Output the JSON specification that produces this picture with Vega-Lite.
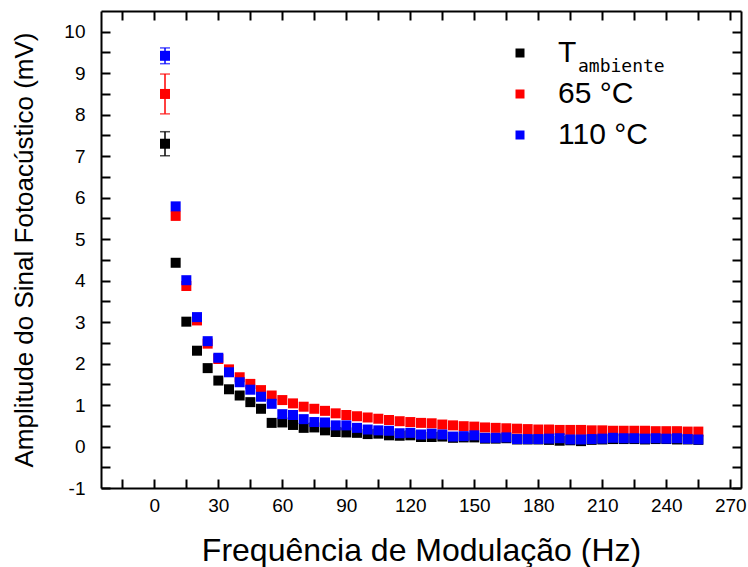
{
  "$schema": "https://vega.github.io/schema/vega-lite/v6.json",
  "width": 640,
  "height": 477,
  "autosize": {"type": "none"},
  "padding": {"left": 101, "top": 11, "right": 7, "bottom": 79},
  "background": "white",
  "config": {
    "view": {"stroke": null},
    "font": "Liberation Sans",
    "axis": {
      "grid": false,
      "domainColor": "black",
      "domainWidth": 2,
      "tickColor": "black",
      "tickWidth": 2,
      "tickSize": -9,
      "labelFont": "Liberation Sans",
      "labelFontSize": 19,
      "labelColor": "black",
      "labelFlush": false,
      "labelOverlap": false,
      "titleFont": "Liberation Sans",
      "titleFontWeight": "normal",
      "titleColor": "black"
    }
  },
  "data": {
    "values": [
      {"freq": 5, "serie": "Tambiente", "amp": 7.30, "err": 0.29},
      {"freq": 10, "serie": "Tambiente", "amp": 4.43},
      {"freq": 15, "serie": "Tambiente", "amp": 3.01},
      {"freq": 20, "serie": "Tambiente", "amp": 2.31},
      {"freq": 25, "serie": "Tambiente", "amp": 1.89},
      {"freq": 30, "serie": "Tambiente", "amp": 1.59},
      {"freq": 35, "serie": "Tambiente", "amp": 1.38},
      {"freq": 40, "serie": "Tambiente", "amp": 1.23},
      {"freq": 45, "serie": "Tambiente", "amp": 1.07},
      {"freq": 50, "serie": "Tambiente", "amp": 0.91},
      {"freq": 55, "serie": "Tambiente", "amp": 0.57},
      {"freq": 60, "serie": "Tambiente", "amp": 0.58},
      {"freq": 65, "serie": "Tambiente", "amp": 0.52},
      {"freq": 70, "serie": "Tambiente", "amp": 0.45},
      {"freq": 75, "serie": "Tambiente", "amp": 0.46},
      {"freq": 80, "serie": "Tambiente", "amp": 0.39},
      {"freq": 85, "serie": "Tambiente", "amp": 0.35},
      {"freq": 90, "serie": "Tambiente", "amp": 0.34},
      {"freq": 95, "serie": "Tambiente", "amp": 0.33},
      {"freq": 100, "serie": "Tambiente", "amp": 0.30},
      {"freq": 105, "serie": "Tambiente", "amp": 0.31},
      {"freq": 110, "serie": "Tambiente", "amp": 0.27},
      {"freq": 115, "serie": "Tambiente", "amp": 0.26},
      {"freq": 120, "serie": "Tambiente", "amp": 0.27},
      {"freq": 125, "serie": "Tambiente", "amp": 0.23},
      {"freq": 130, "serie": "Tambiente", "amp": 0.23},
      {"freq": 135, "serie": "Tambiente", "amp": 0.24},
      {"freq": 140, "serie": "Tambiente", "amp": 0.21},
      {"freq": 145, "serie": "Tambiente", "amp": 0.22},
      {"freq": 150, "serie": "Tambiente", "amp": 0.22},
      {"freq": 155, "serie": "Tambiente", "amp": 0.19},
      {"freq": 160, "serie": "Tambiente", "amp": 0.19},
      {"freq": 165, "serie": "Tambiente", "amp": 0.20},
      {"freq": 170, "serie": "Tambiente", "amp": 0.17},
      {"freq": 175, "serie": "Tambiente", "amp": 0.17},
      {"freq": 180, "serie": "Tambiente", "amp": 0.17},
      {"freq": 185, "serie": "Tambiente", "amp": 0.16},
      {"freq": 190, "serie": "Tambiente", "amp": 0.14},
      {"freq": 195, "serie": "Tambiente", "amp": 0.15},
      {"freq": 200, "serie": "Tambiente", "amp": 0.13},
      {"freq": 205, "serie": "Tambiente", "amp": 0.16},
      {"freq": 210, "serie": "Tambiente", "amp": 0.17},
      {"freq": 215, "serie": "Tambiente", "amp": 0.18},
      {"freq": 220, "serie": "Tambiente", "amp": 0.18},
      {"freq": 225, "serie": "Tambiente", "amp": 0.18},
      {"freq": 230, "serie": "Tambiente", "amp": 0.17},
      {"freq": 235, "serie": "Tambiente", "amp": 0.18},
      {"freq": 240, "serie": "Tambiente", "amp": 0.18},
      {"freq": 245, "serie": "Tambiente", "amp": 0.17},
      {"freq": 250, "serie": "Tambiente", "amp": 0.17},
      {"freq": 255, "serie": "Tambiente", "amp": 0.16},
      {"freq": 5, "serie": "65 °C", "amp": 8.50, "err": 0.48},
      {"freq": 10, "serie": "65 °C", "amp": 5.56},
      {"freq": 15, "serie": "65 °C", "amp": 3.87},
      {"freq": 20, "serie": "65 °C", "amp": 3.04},
      {"freq": 25, "serie": "65 °C", "amp": 2.48},
      {"freq": 30, "serie": "65 °C", "amp": 2.11},
      {"freq": 35, "serie": "65 °C", "amp": 1.86},
      {"freq": 40, "serie": "65 °C", "amp": 1.67},
      {"freq": 45, "serie": "65 °C", "amp": 1.51},
      {"freq": 50, "serie": "65 °C", "amp": 1.36},
      {"freq": 55, "serie": "65 °C", "amp": 1.23},
      {"freq": 60, "serie": "65 °C", "amp": 1.12},
      {"freq": 65, "serie": "65 °C", "amp": 1.04},
      {"freq": 70, "serie": "65 °C", "amp": 0.96},
      {"freq": 75, "serie": "65 °C", "amp": 0.91},
      {"freq": 80, "serie": "65 °C", "amp": 0.86},
      {"freq": 85, "serie": "65 °C", "amp": 0.80},
      {"freq": 90, "serie": "65 °C", "amp": 0.76},
      {"freq": 95, "serie": "65 °C", "amp": 0.73},
      {"freq": 100, "serie": "65 °C", "amp": 0.70},
      {"freq": 105, "serie": "65 °C", "amp": 0.67},
      {"freq": 110, "serie": "65 °C", "amp": 0.64},
      {"freq": 115, "serie": "65 °C", "amp": 0.61},
      {"freq": 120, "serie": "65 °C", "amp": 0.59},
      {"freq": 125, "serie": "65 °C", "amp": 0.57},
      {"freq": 130, "serie": "65 °C", "amp": 0.56},
      {"freq": 135, "serie": "65 °C", "amp": 0.53},
      {"freq": 140, "serie": "65 °C", "amp": 0.51},
      {"freq": 145, "serie": "65 °C", "amp": 0.49},
      {"freq": 150, "serie": "65 °C", "amp": 0.48},
      {"freq": 155, "serie": "65 °C", "amp": 0.46},
      {"freq": 160, "serie": "65 °C", "amp": 0.45},
      {"freq": 165, "serie": "65 °C", "amp": 0.44},
      {"freq": 170, "serie": "65 °C", "amp": 0.43},
      {"freq": 175, "serie": "65 °C", "amp": 0.42},
      {"freq": 180, "serie": "65 °C", "amp": 0.41},
      {"freq": 185, "serie": "65 °C", "amp": 0.41},
      {"freq": 190, "serie": "65 °C", "amp": 0.40},
      {"freq": 195, "serie": "65 °C", "amp": 0.40},
      {"freq": 200, "serie": "65 °C", "amp": 0.40},
      {"freq": 205, "serie": "65 °C", "amp": 0.39},
      {"freq": 210, "serie": "65 °C", "amp": 0.39},
      {"freq": 215, "serie": "65 °C", "amp": 0.38},
      {"freq": 220, "serie": "65 °C", "amp": 0.38},
      {"freq": 225, "serie": "65 °C", "amp": 0.38},
      {"freq": 230, "serie": "65 °C", "amp": 0.38},
      {"freq": 235, "serie": "65 °C", "amp": 0.37},
      {"freq": 240, "serie": "65 °C", "amp": 0.37},
      {"freq": 245, "serie": "65 °C", "amp": 0.37},
      {"freq": 250, "serie": "65 °C", "amp": 0.36},
      {"freq": 255, "serie": "65 °C", "amp": 0.36},
      {"freq": 5, "serie": "110 °C", "amp": 9.42, "err": 0.19},
      {"freq": 10, "serie": "110 °C", "amp": 5.79},
      {"freq": 15, "serie": "110 °C", "amp": 4.01},
      {"freq": 20, "serie": "110 °C", "amp": 3.12},
      {"freq": 25, "serie": "110 °C", "amp": 2.54},
      {"freq": 30, "serie": "110 °C", "amp": 2.14},
      {"freq": 35, "serie": "110 °C", "amp": 1.79},
      {"freq": 40, "serie": "110 °C", "amp": 1.55},
      {"freq": 45, "serie": "110 °C", "amp": 1.37},
      {"freq": 50, "serie": "110 °C", "amp": 1.20},
      {"freq": 55, "serie": "110 °C", "amp": 1.03},
      {"freq": 60, "serie": "110 °C", "amp": 0.78},
      {"freq": 65, "serie": "110 °C", "amp": 0.76},
      {"freq": 70, "serie": "110 °C", "amp": 0.66},
      {"freq": 75, "serie": "110 °C", "amp": 0.59},
      {"freq": 80, "serie": "110 °C", "amp": 0.58},
      {"freq": 85, "serie": "110 °C", "amp": 0.51},
      {"freq": 90, "serie": "110 °C", "amp": 0.51},
      {"freq": 95, "serie": "110 °C", "amp": 0.45},
      {"freq": 100, "serie": "110 °C", "amp": 0.41},
      {"freq": 105, "serie": "110 °C", "amp": 0.39},
      {"freq": 110, "serie": "110 °C", "amp": 0.38},
      {"freq": 115, "serie": "110 °C", "amp": 0.32},
      {"freq": 120, "serie": "110 °C", "amp": 0.33},
      {"freq": 125, "serie": "110 °C", "amp": 0.29},
      {"freq": 130, "serie": "110 °C", "amp": 0.31},
      {"freq": 135, "serie": "110 °C", "amp": 0.29},
      {"freq": 140, "serie": "110 °C", "amp": 0.24},
      {"freq": 145, "serie": "110 °C", "amp": 0.25},
      {"freq": 150, "serie": "110 °C", "amp": 0.27},
      {"freq": 155, "serie": "110 °C", "amp": 0.21},
      {"freq": 160, "serie": "110 °C", "amp": 0.21},
      {"freq": 165, "serie": "110 °C", "amp": 0.22},
      {"freq": 170, "serie": "110 °C", "amp": 0.18},
      {"freq": 175, "serie": "110 °C", "amp": 0.18},
      {"freq": 180, "serie": "110 °C", "amp": 0.18},
      {"freq": 185, "serie": "110 °C", "amp": 0.19},
      {"freq": 190, "serie": "110 °C", "amp": 0.20},
      {"freq": 195, "serie": "110 °C", "amp": 0.17},
      {"freq": 200, "serie": "110 °C", "amp": 0.17},
      {"freq": 205, "serie": "110 °C", "amp": 0.18},
      {"freq": 210, "serie": "110 °C", "amp": 0.19},
      {"freq": 215, "serie": "110 °C", "amp": 0.21},
      {"freq": 220, "serie": "110 °C", "amp": 0.20},
      {"freq": 225, "serie": "110 °C", "amp": 0.20},
      {"freq": 230, "serie": "110 °C", "amp": 0.19},
      {"freq": 235, "serie": "110 °C", "amp": 0.20},
      {"freq": 240, "serie": "110 °C", "amp": 0.19},
      {"freq": 245, "serie": "110 °C", "amp": 0.20},
      {"freq": 250, "serie": "110 °C", "amp": 0.18},
      {"freq": 255, "serie": "110 °C", "amp": 0.17}
    ]
  },
  "layer": [
    {
      "transform": [{"filter": "isValid(datum.err)"}],
      "mark": {"type": "errorbar", "thickness": 1.5, "ticks": {"size": 10}},
      "encoding": {
        "x": {
          "field": "freq", "type": "quantitative",
          "scale": {"domain": [-25, 275], "nice": false, "zero": false},
          "axis": {
            "orient": "top", "title": null, "labels": false,
            "values": [-15, 0, 15, 30, 45, 60, 75, 90, 105, 120, 135, 150, 165, 180, 195, 210, 225, 240, 255, 270],
            "encode": {"ticks": {"update": {"y2": {"signal": "datum.value % 30 === 0 ? 9 : 5"}}}}
          }
        },
        "y": {
          "field": "amp", "type": "quantitative",
          "scale": {"domain": [-1, 10.5], "nice": false, "zero": false},
          "axis": {
            "orient": "right", "title": null, "labels": false,
            "values": [-1, -0.5, 0, 0.5, 1, 1.5, 2, 2.5, 3, 3.5, 4, 4.5, 5, 5.5, 6, 6.5, 7, 7.5, 8, 8.5, 9, 9.5, 10],
            "encode": {"ticks": {"update": {"x2": {"signal": "datum.value % 1 === 0 ? -9 : -5"}}}}
          }
        },
        "yError": {"field": "err"},
        "color": {
          "field": "serie", "type": "nominal",
          "scale": {"domain": ["Tambiente", "65 °C", "110 °C"], "range": ["#000000", "#ff0000", "#0000ff"]},
          "legend": null
        }
      }
    },
    {
      "mark": {"type": "square", "size": 100, "filled": true, "opacity": 1},
      "encoding": {
        "x": {
          "field": "freq", "type": "quantitative",
          "axis": {
            "orient": "bottom",
            "title": "Frequência de Modulação (Hz)",
            "titleFontSize": 32,
            "titlePadding": 20,
            "labelPadding": 17,
            "values": [-15, 0, 15, 30, 45, 60, 75, 90, 105, 120, 135, 150, 165, 180, 195, 210, 225, 240, 255, 270],
            "labelExpr": "datum.value % 30 === 0 ? '' + datum.value : ''",
            "encode": {"ticks": {"update": {"y2": {"signal": "datum.value % 30 === 0 ? -9 : -5"}}}}
          }
        },
        "y": {
          "field": "amp", "type": "quantitative",
          "axis": {
            "orient": "left",
            "title": "Amplitude do Sinal Fotoacústico (mV)",
            "titleFontSize": 26,
            "titlePadding": 26,
            "labelPadding": 25,
            "values": [-1, -0.5, 0, 0.5, 1, 1.5, 2, 2.5, 3, 3.5, 4, 4.5, 5, 5.5, 6, 6.5, 7, 7.5, 8, 8.5, 9, 9.5, 10],
            "labelExpr": "datum.value % 1 === 0 ? '' + datum.value : ''",
            "encode": {"ticks": {"update": {"x2": {"signal": "datum.value % 1 === 0 ? 9 : 5"}}}}
          }
        },
        "color": {
          "field": "serie", "type": "nominal",
          "legend": {
            "title": null,
            "orient": "none",
            "legendX": 404,
            "legendY": 27,
            "padding": 0,
            "symbolType": "square",
            "symbolSize": 81,
            "symbolStrokeWidth": 0,
            "labelFont": "Liberation Sans",
            "labelFontSize": 30,
            "labelColor": "black",
            "labelOffset": 23,
            "rowPadding": 11,
            "labelExpr": "datum.label === 'Tambiente' ? 'T' : datum.label"
          }
        }
      }
    },
    {
      "data": {"values": [{"sub": "ambiente"}]},
      "mark": {"type": "text", "font": "DejaVu Sans Mono", "fontSize": 18, "align": "left", "baseline": "alphabetic", "color": "black"},
      "encoding": {
        "x": {"datum": 198.6, "type": "quantitative", "axis": null},
        "y": {"datum": 9.03, "type": "quantitative", "axis": null},
        "text": {"field": "sub"}
      }
    }
  ],
  "resolve": {
    "axis": {"x": "independent", "y": "independent"},
    "legend": {"color": "independent"}
  }
}
